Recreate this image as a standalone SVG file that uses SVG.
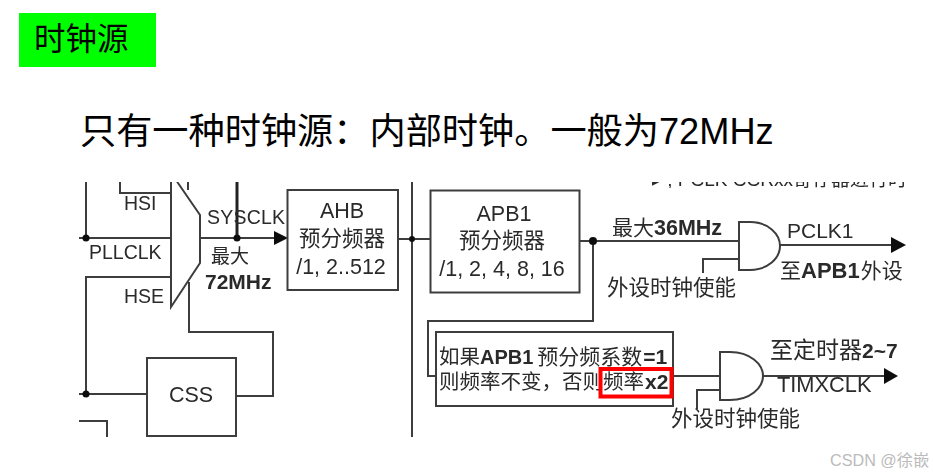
<svg xmlns="http://www.w3.org/2000/svg" width="933" height="476" viewBox="0 0 933 476">
<style>
text{font-family:"Liberation Sans","Noto Sans CJK SC",sans-serif;fill:#2a2a2a}
.l{fill:none;stroke:#3c3c3c;stroke-width:2}
.h{fill:none;stroke:#222;stroke-width:3}
.b{fill:#fff;stroke:#3c3c3c;stroke-width:2}
.a{fill:#111;stroke:none}
.d{fill:#111;stroke:none}
.t{font-size:21.500px;text-anchor:middle}
.s{font-size:19.500px}
.c{font-size:21.500px}
.bd{font-weight:bold}
</style>
<defs>
<filter id="soft" x="-2%" y="-2%" width="104%" height="104%"><feGaussianBlur stdDeviation="0.45"/></filter>
<clipPath id="crop"><rect x="79" y="182" width="840" height="255"/></clipPath>
<clipPath id="cropTop"><rect x="640" y="182" width="290" height="6"/></clipPath>
</defs>
<rect width="933" height="476" fill="#fff"/>
<g id="title-tag">
<rect x="19" y="13" width="137" height="54" fill="#00ff00"/>
<text x="34" y="50" font-size="31.500" style="fill:#000">时钟源</text>
</g>
<text id="heading" x="80" y="144" font-size="36.200" style="fill:#000">只有一种时钟源：内部时钟。一般为72MHz</text>
<g filter="url(#soft)" clip-path="url(#cropTop)">
<text x="652" y="186" font-size="19">▸ , PCLK CCRxx寄存器进行时</text>
</g>
<g filter="url(#soft)" clip-path="url(#crop)">
<g id="connectors">
<path class="l" d="M86 182V238M120 182V193H171M79 238H171M171 277H86V394M79 394H147M236 396H273V332H189V282M200 238H276"/>
<path class="h" d="M237 182V238"/>
<path class="l" d="M398 239H430M412 182V437M580 241H739M593 241V321H428V376H436M703 273V259H739M780 245H892M673 376H720M763 376H885M697 409V390H720M79 421H107V437"/>
<path class="a" d="M274 231L288 238L274 245Z"/>
<path class="a" d="M891 237L906 245L891 253Z"/>
<path class="a" d="M884 368L898 376L884 384Z"/>
<circle class="d" cx="86" cy="238" r="3.500"/>
<circle class="d" cx="86" cy="394" r="3.500"/>
<circle class="d" cx="237" cy="238" r="3.500"/>
<circle class="d" cx="412" cy="239" r="3"/>
<circle class="d" cx="593" cy="241" r="4"/>
</g>
<g id="mux">
<path class="b" d="M171 172V307L200 263V215L178 183Z"/>
<path class="l" d="M188 176V190"/>
<text x="124" y="210" class="s">HSI</text>
<text x="89" y="259" class="s">PLLCLK</text>
<text x="124" y="303" class="s">HSE</text>
<text x="207" y="224" class="s" textLength="78">SYSCLK</text>
<text x="211" y="263" font-size="19">最大</text>
<text x="205" y="289" font-size="21" class="bd">72MHz</text>
</g>
<g id="ahb">
<rect class="b" x="287.500" y="190" width="110.500" height="100"/>
<text x="342" y="218" class="t">AHB</text>
<text x="342" y="246" class="t">预分频器</text>
<text x="341" y="274" class="t">/1, 2..512</text>
</g>
<g id="css">
<rect class="b" x="147" y="358" width="89" height="78"/>
<text x="191" y="402" class="t">CSS</text>
</g>
<g id="apb1">
<rect class="b" x="430.500" y="190.500" width="149" height="102"/>
<text x="504" y="221" class="t">APB1</text>
<text x="502" y="248" class="t">预分频器</text>
<text x="502" y="276" class="t">/1, 2, 4, 8, 16</text>
</g>
<g id="gate1">
<path class="b" d="M739 222H750C768 222 780 234 780 246C780 258 768 270 750 270H739Z"/>
<text x="612" y="235" font-size="21">最大<tspan class="bd" font-size="21.500">36MHz</tspan></text>
<text x="787" y="238" font-size="21">PCLK1</text>
<text x="780" y="278" font-size="21">至<tspan class="bd" font-size="22">APB1</tspan><tspan dx="1">外设</tspan></text>
<text x="607" y="295" class="c">外设时钟使能</text>
</g>
<g id="mult">
<rect class="b" x="436" y="332" width="237" height="74"/>
<text x="439" y="364" font-size="20.500">如果<tspan class="bd" font-size="20">APB1</tspan><tspan dx="4" font-size="21">预分频系数</tspan><tspan class="bd" font-size="21" dx="1">=1</tspan></text>
<text x="439" y="389" font-size="20.500">则频率不变，否则频率<tspan class="bd" font-size="21" dx="1">x2</tspan></text>
</g>
<g id="gate2">
<path class="b" d="M720 352H730C750 352 763 364 763 376C763 388 750 400 730 400H720Z"/>
<text x="770" y="358" font-size="23">至定时器<tspan class="bd" font-size="21">2~7</tspan></text>
<text x="777" y="392" font-size="21.800">TIMXCLK</text>
<text x="671" y="426" class="c">外设时钟使能</text>
</g>
</g>
<rect id="highlight" x="600.500" y="369" width="71" height="27.500" fill="none" stroke="#f00" stroke-width="4"/>
<text id="watermark" x="830" y="466" font-size="16.200" style="fill:#bbb">CSDN @徐嵌</text>
</svg>
